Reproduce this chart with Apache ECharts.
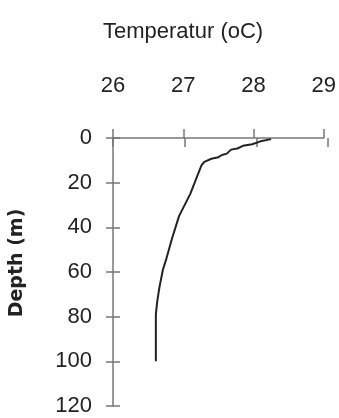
<!DOCTYPE html>
<html>
<head>
<meta charset="utf-8">
<script src="https://cdn.jsdelivr.net/npm/echarts@6/dist/echarts.min.js"></script>
<style>
  html, body { margin: 0; padding: 0; background: #fff; }
  #chart { width: 339px; height: 418px; }
</style>
</head>
<body>
<div id="chart"></div>
<script>
// temperature profile: [temperature, depth]
const temps  = [28.25, 28.1, 27.98, 27.85, 27.77, 27.68, 27.62, 27.55, 27.5, 27.4, 27.3, 27.26, 27.2, 27.1, 26.94, 26.84, 26.76, 26.71, 26.66, 26.63, 26.61, 26.61, 26.61];
const depths = [0.5,   1.5,  2.8,   3.5,   4.7,   5.2,   7.0,   7.6,   8.6,  9.3,  10.7, 12.2,  17,   25,   35,    45,    54,    59,    67,    73,    79,    90,    100];
const xTicks = [26, 27, 28, 29];
const yTicks = [0, 20, 40, 60, 80, 100, 120];

const font = '"Liberation Sans", Arial, sans-serif';
const axisColor = '#777';
const gridRect = { left: 113, right: 11, top: 138, bottom: 12 };

let myChart = echarts.init(document.getElementById("chart"));

const xBase = (gridIndex) => ({
  type: "value",
  gridIndex: gridIndex,
  position: "top",
  min: xTicks[0],
  max: xTicks[xTicks.length - 1],
  interval: 1,
  splitLine: { show: false }
});
const yBase = (gridIndex) => ({
  type: "value",
  gridIndex: gridIndex,
  position: "left",
  inverse: true,
  min: yTicks[0],
  max: yTicks[yTicks.length - 1],
  interval: 20,
  splitLine: { show: false }
});

const getOption = () => {
  return {
    animation: false,
    title: {
      text: "Temperatur (oC)",
      left: 98,
      top: 16,
      textStyle: { fontFamily: font, fontSize: 22, fontWeight: "normal", color: "#222" }
    },
    // two grids on the same rect: one draws the outer half of each tick, the other the inner half
    grid: [
      Object.assign({ containLabel: false }, gridRect),
      Object.assign({ containLabel: false }, gridRect)
    ],
    xAxis: [
      Object.assign(xBase(0), {
        axisLine: { show: true, lineStyle: { color: axisColor, width: 1.5 } },
        axisTick: { show: true, length: 9, lineStyle: { color: axisColor, width: 1.5 } },
        axisLabel: { margin: 41, fontFamily: font, fontSize: 22, color: "#222" }
      }),
      Object.assign(xBase(1), {
        axisLine: { show: false },
        axisTick: { show: true, inside: true, length: 9, lineStyle: { color: axisColor, width: 1.5 } },
        axisLabel: { show: false }
      })
    ],
    yAxis: [
      Object.assign(yBase(0), {
        name: "Depth (m)",
        nameLocation: "middle",
        nameGap: 86,
        nameTextStyle: { fontFamily: '"DejaVu Sans", sans-serif', fontSize: 19, fontWeight: "bold", color: "#222", padding: [0, 0, 0, 18] },
        axisLine: { show: true, lineStyle: { color: axisColor, width: 1.5 } },
        axisTick: { show: true, length: 7, lineStyle: { color: axisColor, width: 1.5 } },
        axisLabel: { margin: 21, fontFamily: font, fontSize: 22, color: "#222" }
      }),
      Object.assign(yBase(1), {
        axisLine: { show: false },
        axisTick: { show: true, inside: true, length: 7, lineStyle: { color: axisColor, width: 1.5 } },
        axisLabel: { show: false }
      })
    ],
    series: [
      {
        type: "line",
        xAxisIndex: 0,
        yAxisIndex: 0,
        data: temps.map((t, i) => [t, depths[i]]),
        showSymbol: false,
        lineStyle: { color: "#222", width: 2 },
        z: 3
      }
    ]
  };
};

myChart.setOption(getOption());
</script>
</body>
</html>
